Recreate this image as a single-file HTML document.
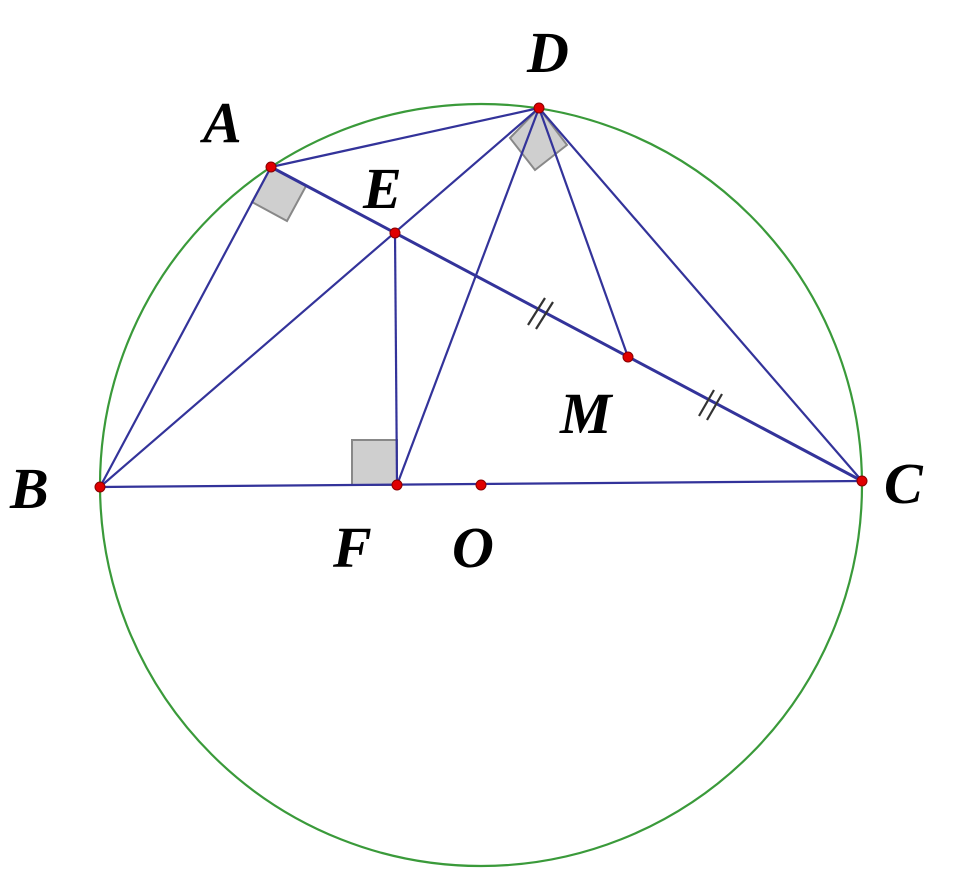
<!DOCTYPE html>
<html><head><meta charset="utf-8"><style>
html,body{margin:0;padding:0;background:#fff;}
text{font-family:"Liberation Serif",serif;font-weight:bold;font-style:italic;font-size:58px;fill:#000;}
</style></head><body>
<svg width="955" height="889" viewBox="0 0 955 889" xmlns="http://www.w3.org/2000/svg">
<circle cx="481" cy="485" r="381" fill="none" stroke="#3a9a3a" stroke-width="2.2"/>
<polygon points="271,167 252,202 287,221 306,186" fill="#cfcfcf" stroke="#888" stroke-width="2"/>
<polygon points="539,108 510,138 535,170 567,145" fill="#cfcfcf" stroke="#888" stroke-width="2"/>
<polygon points="352,440 397,440 397,485 352,485" fill="#cfcfcf" stroke="#888" stroke-width="2"/>
<g stroke="#33339a" stroke-width="2.2" fill="none">
<line x1="271" y1="167" x2="539" y2="108"/>
<line x1="271" y1="167" x2="100" y2="487"/>
<line x1="100" y1="487" x2="539" y2="108"/>
<line x1="100" y1="487" x2="862" y2="481"/>
<line x1="395" y1="233" x2="397" y2="485"/>
<line x1="397" y1="485" x2="539" y2="108"/>
<line x1="539" y1="108" x2="628" y2="357"/>
<line x1="539" y1="108" x2="862" y2="481"/>
<line x1="271" y1="167" x2="862" y2="481" stroke-width="3"/>
</g>
<g stroke="#333" stroke-width="2.2">
<line x1="528" y1="325" x2="545" y2="298"/><line x1="536" y1="329" x2="553" y2="302"/>
<line x1="699" y1="416" x2="714" y2="390"/><line x1="707" y1="420" x2="722" y2="394"/>
</g>
<g fill="#e00000" stroke="#800" stroke-width="1">
<circle cx="271" cy="167" r="5"/><circle cx="539" cy="108" r="5"/><circle cx="395" cy="233" r="5"/>
<circle cx="628" cy="357" r="5"/><circle cx="100" cy="487" r="5"/><circle cx="397" cy="485" r="5"/>
<circle cx="481" cy="485" r="5"/><circle cx="862" cy="481" r="5"/>
</g>
<text x="203" y="142">A</text>
<text x="527" y="72">D</text>
<text x="363" y="208">E</text>
<text x="560" y="433">M</text>
<text x="10" y="508">B</text>
<text x="333" y="567">F</text>
<text x="452" y="567">O</text>
<text x="884" y="503">C</text>
</svg>
</body></html>
